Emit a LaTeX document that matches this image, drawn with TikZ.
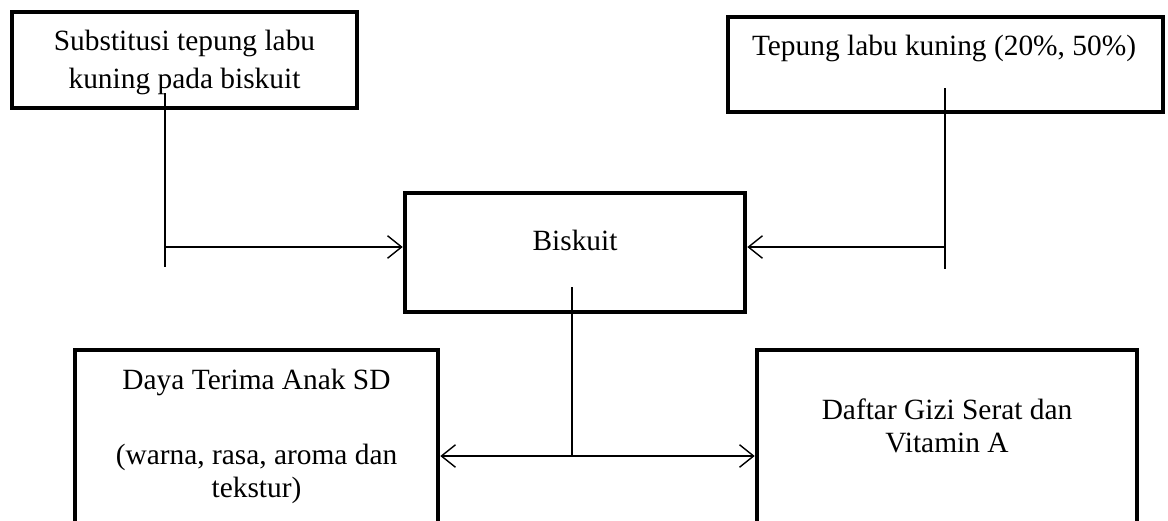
\documentclass[tikz,border=0pt]{standalone}
\usepackage{fontspec}
\setmainfont{Liberation Serif}
\usetikzlibrary{positioning, arrows.meta}

\tikzset{
    box/.style={draw, line width=3.2pt, inner sep=0pt},
    txt/.style={align=center, inner sep=0pt, font=\fontsize{20.9}{23.4}\selectfont},
    conn/.style={line width=1pt},
    tip/.style={-{Straight Barb[length=10pt, width=16pt, line width=1pt]}}
}

\begin{document}
\begin{tikzpicture}[x=0.025cm, y=-0.025cm]
      \clip (0, 0) rectangle (1168, 520);
      \useasboundingbox (0, 0) rectangle (1168, 520);

      % boxes
      \node[box, minimum width=8.625cm, minimum height=2.4cm] (subst) at (184.5, 60) {};
      \node[box, minimum width=10.875cm, minimum height=2.375cm] (tepung) at (945.5, 64.5) {};
      \node[box, minimum width=8.5cm, minimum height=2.975cm] (biskuit) at (575, 252.5) {};
      \node[box, minimum width=9.075cm, minimum height=5cm] (daya) at (256.5, 450) {};
      \node[box, minimum width=9.5cm, minimum height=5cm] (gizi) at (947, 450) {};

      % texts
      \node[txt, font=\fontsize{20.9}{27}\selectfont] (subst-text) at (184.5, 62) {Substitusi tepung labu\\kuning pada biskuit};
      \node[txt] (tepung-text) at (944, 48) {Tepung labu kuning (20\%, 50\%)};
      \node[txt] (biskuit-text) at (575, 240) {Biskuit};
      \node[txt] (daya-title) at (256.5, 382) {Daya Terima Anak SD};
      \node[txt] (daya-text) at (256.5, 474) {(warna, rasa, aroma dan\\tekstur)};
      \node[txt] (gizi-text) at (947, 426) {Daftar Gizi Serat dan\\Vitamin A};

      % junctions
      \coordinate (s-top) at (165, 93);
      \coordinate (s-bot) at (165, 267);
      \coordinate (j1) at (165, 247);
      \coordinate (t-top) at (945, 88);
      \coordinate (t-bot) at (945, 269);
      \coordinate (j2) at (945, 247);
      \coordinate (b-top) at (572, 287);
      \coordinate (j3) at (572, 456);

      % connectors
      \draw[conn] (s-top) -- (s-bot);
      \draw[conn, tip] (j1) -- (j1 -| biskuit.west);
      \draw[conn] (t-top) -- (t-bot);
      \draw[conn, tip] (j2) -- (j2 -| biskuit.east);
      \draw[conn] (b-top) -- (j3);
      \draw[conn, tip] (j3) -- (j3 -| daya.east);
      \draw[conn, tip] (j3) -- (j3 -| gizi.west);
    \end{tikzpicture}
\end{document}
